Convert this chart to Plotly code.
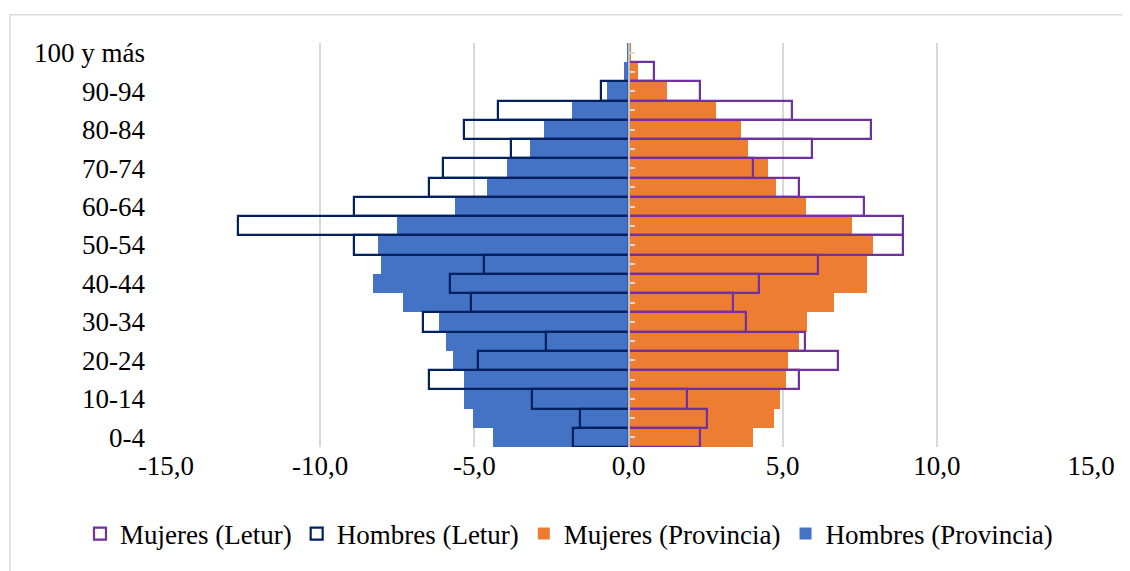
import plotly.graph_objects as go

ages = ["0-4", "5-9", "10-14", "15-19", "20-24", "25-29", "30-34", "35-39",
        "40-44", "45-49", "50-54", "55-59", "60-64", "65-69", "70-74",
        "75-79", "80-84", "85-89", "90-94", "95-99", "100 y más"]
tick_labels = ["0-4", "10-14", "20-24", "30-34", "40-44", "50-54", "60-64",
               "70-74", "80-84", "90-94", "100 y más"]

hombres_provincia = [-4.41, -5.04, -5.34, -5.34, -5.68, -5.93, -6.14, -7.30,
                     -8.28, -8.02, -8.11, -7.50, -5.64, -4.60, -3.94, -3.18,
                     -2.73, -1.84, -0.69, -0.14, -0.03]
mujeres_provincia = [4.04, 4.72, 4.92, 5.10, 5.18, 5.52, 5.78, 6.68, 7.73,
                     7.75, 7.93, 7.26, 5.75, 4.77, 4.52, 3.86, 3.66, 2.85,
                     1.25, 0.30, 0.08]
hombres_letur = [-1.79, -1.57, -3.12, -6.46, -4.89, -2.67, -6.67, -5.12,
                 -5.79, -4.68, -8.91, -12.68, -8.91, -6.46, -6.01, -3.80,
                 -5.34, -4.24, -0.90, None, None]
mujeres_letur = [2.32, 2.54, 1.90, 5.52, 6.79, 5.72, 3.81, 3.39, 4.24, 6.15,
                 8.90, 8.90, 7.64, 5.52, 4.04, 5.94, 7.85, 5.30, 2.32, 0.84,
                 None]
x_ticks = [-15, -10, -5, 0, 5, 10, 15]
x_tick_text = ["-15,0", "-10,0", "-5,0", "0,0", "5,0", "10,0", "15,0"]

FONT = "Liberation Serif, Times New Roman, serif"
BLUE = "#4472C4"
ORANGE = "#ED7D31"
NAVY = "#002060"
PURPLE = "#7030A0"

fig = go.Figure()
fig.add_trace(go.Bar(y=ages, x=hombres_provincia, orientation="h",
                     name="Hombres (Provincia)", legendrank=4,
                     marker=dict(color=BLUE, line=dict(width=0))))
fig.add_trace(go.Bar(y=ages, x=mujeres_provincia, orientation="h",
                     name="Mujeres (Provincia)", legendrank=3,
                     marker=dict(color=ORANGE, line=dict(width=0))))
fig.add_trace(go.Bar(y=ages, x=hombres_letur, orientation="h",
                     name="Hombres (Letur)", legendrank=2,
                     marker=dict(color="rgba(0,0,0,0)",
                                 line=dict(color=NAVY, width=2.2))))
fig.add_trace(go.Bar(y=ages, x=mujeres_letur, orientation="h",
                     name="Mujeres (Letur)", legendrank=1,
                     marker=dict(color="rgba(0,0,0,0)",
                                 line=dict(color=PURPLE, width=2.2))))
# invisible trace carrying the zero axis with its tick marks
fig.add_trace(go.Scatter(y=ages, x=[None] * len(ages), yaxis="y2",
                         showlegend=False, hoverinfo="skip", mode="markers"))

fig.update_layout(
    width=1122, height=563,
    margin=dict(l=158, r=39, t=35, b=115),
    paper_bgcolor="white", plot_bgcolor="white",
    barmode="overlay", bargap=0,
    font=dict(family=FONT, size=27, color="black"),
    xaxis=dict(range=[-15, 15], tickvals=x_ticks, ticktext=x_tick_text,
               showgrid=True, gridcolor="#D9D9D9", gridwidth=1.5,
               zeroline=False, showline=False, ticks="",
               tickfont=dict(size=27)),
    yaxis=dict(type="category", categoryorder="array", categoryarray=ages,
               range=[-0.5, 20.5], tickvals=tick_labels, ticks="",
               ticklabelstandoff=20, showgrid=False, zeroline=False,
               showline=False, tickfont=dict(size=27)),
    yaxis2=dict(type="category", categoryorder="array", categoryarray=ages,
                range=[-0.5, 20.5], overlaying="y", anchor="free",
                position=0.5, side="left", showline=True,
                linecolor="#BFBFBF", linewidth=2, ticks="inside",
                ticklen=5, tickwidth=2, tickcolor="#D9D9D9",
                tickvals=ages, showticklabels=False, showgrid=False,
                zeroline=False),
    legend=dict(orientation="h", xref="paper", yref="paper",
                x=-0.093, xanchor="left", y=-0.2155, yanchor="middle",
                font=dict(size=27), traceorder="normal", itemwidth=30,
                bgcolor="rgba(0,0,0,0)"),
    shapes=[dict(type="rect", xref="paper", yref="paper",
                 x0=-0.1686, x1=1.06, y0=-0.32, y1=1.0702,
                 line=dict(color="#D9D9D9", width=1.5),
                 fillcolor="rgba(0,0,0,0)", layer="below")],
)

fig.write_html("out.html")
